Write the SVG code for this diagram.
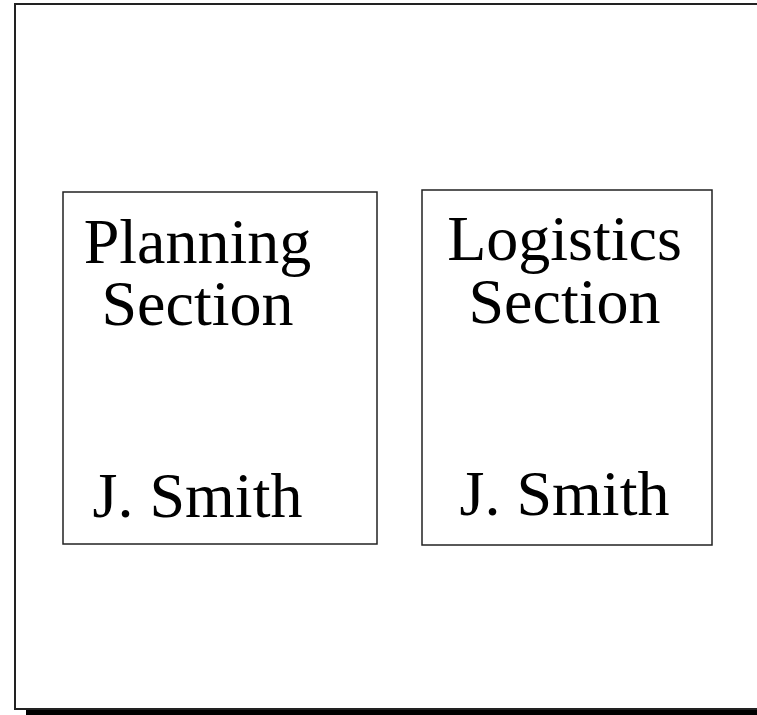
<svg xmlns="http://www.w3.org/2000/svg" width="757" height="715" viewBox="0 0 757 715">
<style>
.frame{fill:none;stroke:#222;stroke-width:2}
.box{fill:#fff;stroke:#222;stroke-width:1.5}
.t{font-family:"Liberation Serif","Times New Roman",serif;font-size:64px;fill:#000;text-anchor:middle}
</style>
<rect x="0" y="0" width="757" height="715" fill="#fff"/>
<rect x="26" y="709" width="740" height="12" fill="#000"/>
<rect class="frame" x="15" y="4" width="760" height="705" fill="#fff"/>
<g id="connectors"></g>
<g id="planning">
<rect class="box" x="63" y="192" width="314" height="352"/>
<text class="t" x="197.5" y="263">Planning</text>
<text class="t" x="197.5" y="325">Section</text>
<text class="t" x="197.5" y="517">J. Smith</text>
</g>
<g id="logistics">
<rect class="box" x="422" y="190" width="290" height="355"/>
<text class="t" x="564.5" y="260">Logistics</text>
<text class="t" x="564.5" y="323">Section</text>
<text class="t" x="564.5" y="515">J. Smith</text>
</g>
</svg>
